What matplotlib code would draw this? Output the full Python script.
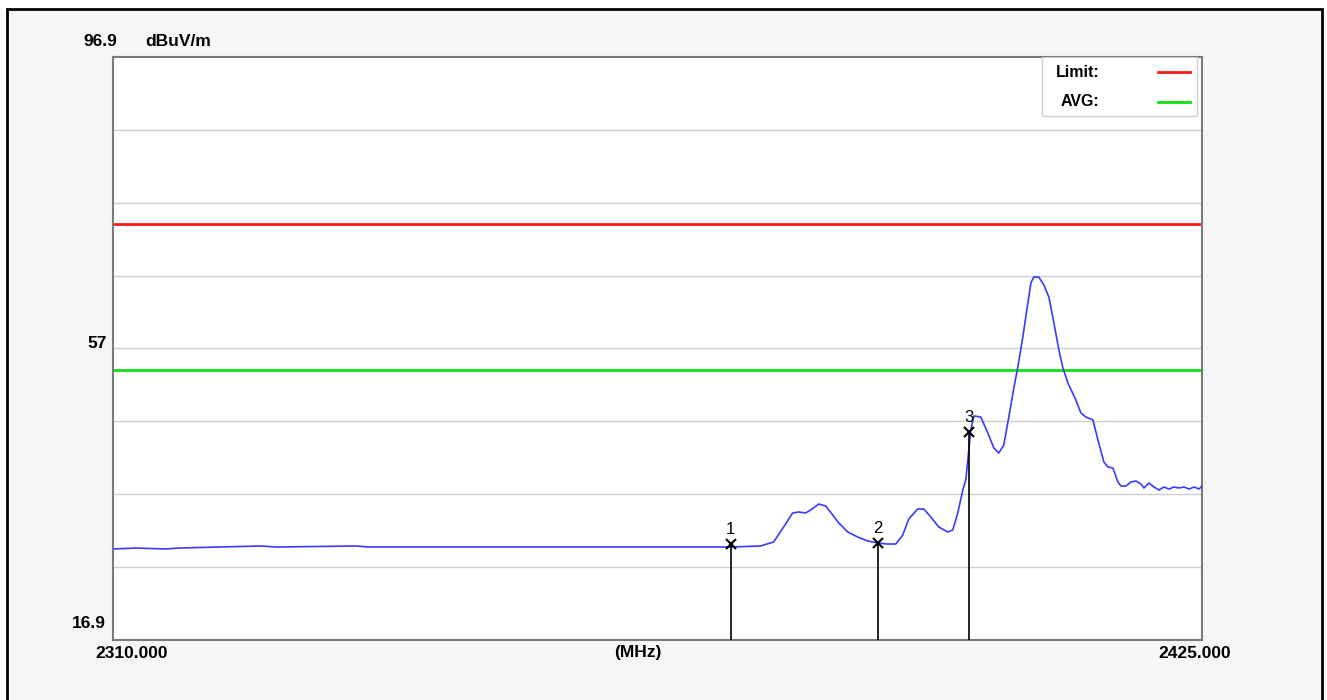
import matplotlib
matplotlib.use("Agg")
import matplotlib.pyplot as plt
from matplotlib.patches import Rectangle
from matplotlib.lines import Line2D

plt.rcParams['font.family'] = ['Liberation Sans', 'DejaVu Sans']

# Datos (MHz, dBuV/m)
freq = [2310.0, 2312.43, 2315.5, 2317.0, 2325.54, 2327.23, 2335.69, 2337.0,
        2350.91, 2372.05, 2375.22, 2378.39, 2379.76, 2380.82, 2381.77, 2382.40,
        2383.14, 2383.67, 2384.52, 2385.26, 2386.00, 2386.64, 2387.59, 2388.64,
        2389.70, 2390.76, 2391.81, 2392.66, 2393.40, 2394.03, 2394.98, 2395.62,
        2396.36, 2397.20, 2398.15, 2398.68, 2399.21, 2399.74, 2400.06, 2400.27,
        2400.58, 2400.90, 2401.64, 2402.38, 2403.02, 2403.54, 2404.07, 2404.60,
        2405.13, 2405.55, 2406.08, 2406.61, 2406.93, 2407.24, 2407.77, 2408.30,
        2408.83, 2409.36, 2409.89, 2410.31, 2410.84, 2411.68, 2412.21, 2412.74,
        2413.48, 2414.01, 2414.64, 2415.07, 2415.59, 2416.12, 2416.44, 2416.97,
        2417.50, 2418.03, 2418.55, 2418.87, 2419.40, 2419.93, 2420.46, 2420.98,
        2421.51, 2422.04, 2422.57, 2423.10, 2423.63, 2424.16, 2424.69, 2425.0]
nivel = [29.39, 29.52, 29.39, 29.52, 29.80, 29.66, 29.80, 29.66,
         29.66, 29.66, 29.66, 29.80, 30.35, 32.41, 34.33, 34.47,
         34.33, 34.74, 35.56, 35.29, 34.06, 32.96, 31.72, 31.03,
         30.49, 30.21, 30.07, 30.07, 31.31, 33.50, 34.88, 34.88,
         33.78, 32.41, 31.72, 32.00, 34.33, 37.48, 38.86, 41.60,
         45.72, 47.64, 47.50, 45.31, 43.25, 42.56, 43.66, 47.50,
         51.48, 54.36, 58.48, 63.14, 65.89, 66.71, 66.71, 65.61,
         63.97, 60.40, 56.69, 54.23, 52.17, 49.83, 48.05, 47.50,
         47.09, 44.34, 41.33, 40.64, 40.50, 38.58, 38.03, 38.03,
         38.58, 38.72, 38.31, 37.76, 38.44, 37.89, 37.48, 37.89,
         37.62, 37.89, 37.76, 37.89, 37.62, 37.89, 37.62, 38.03]

marcadores_freq = [2375.22, 2390.76, 2400.37]
marcadores_nivel = [30.1, 30.2, 45.4]
marcadores_txt = ['1', '2', '3']

limite = 74.0
promedio = 54.0
y_min, y_max = 16.9, 96.9
x_min, x_max = 2310.0, 2425.0

fig = plt.figure(figsize=(13.27, 7.0), dpi=100)
fig.patch.set_facecolor('white')

# marco exterior
fondo = Rectangle((7 / 1327, -0.01), (1322 - 7) / 1327, 1 - 9 / 700 + 0.01,
                  transform=fig.transFigure, facecolor='#f6f6f6',
                  edgecolor='black', linewidth=2, zorder=-5)
fig.patches.append(fondo)

ax = fig.add_axes([113 / 1327, 1 - 640 / 700, (1202 - 113) / 1327, (640 - 57) / 700])
ax.set_zorder(2)
ax.set_facecolor('white')
ax.set_xlim(x_min, x_max)
ax.set_ylim(y_min, y_max)

# rejilla horizontal
for k in range(1, 8):
    ax.axhline(y_min + 10 * k, color='#cfcfcf', linewidth=1, zorder=1)

ax.axhline(limite, color='#ff1a1a', linewidth=2, zorder=2)
ax.axhline(promedio, color='#10e010', linewidth=2, zorder=2)

ax.plot(freq, nivel, color='#3a3aff', linewidth=1.2, zorder=3)

for f, n, t in zip(marcadores_freq, marcadores_nivel, marcadores_txt):
    ax.plot([f, f], [y_min, n], color='black', linewidth=1.2, zorder=4)
    ax.plot(f, n, marker='x', color='black', markersize=7, markeredgewidth=1.5, zorder=5)
    ax.text(f, n + 1.0, t, ha='center', va='bottom', fontsize=12, color='black', zorder=5)

ax.set_xticks([])
ax.set_yticks([])
for s in ax.spines.values():
    s.set_color('#7a7a7a')
    s.set_linewidth(1.5)

# leyenda
caja = Rectangle((0.853, 0.899), 0.142, 0.101, transform=ax.transAxes,
                 facecolor='white', edgecolor='#d0d0d0', linewidth=1, zorder=6)
ax.add_patch(caja)
ax.text(0.906, 0.974, 'Limit:', transform=ax.transAxes, ha='right', va='center',
        fontsize=11.5, fontweight='bold', zorder=7)
ax.text(0.906, 0.923, 'AVG:', transform=ax.transAxes, ha='right', va='center',
        fontsize=11.5, fontweight='bold', zorder=7)
ax.add_line(Line2D([0.9596, 0.989], [0.974, 0.974], transform=ax.transAxes,
                   color='#ff1a1a', linewidth=2, zorder=7))
ax.add_line(Line2D([0.9596, 0.989], [0.923, 0.923], transform=ax.transAxes,
                   color='#10e010', linewidth=2, zorder=7))

# etiquetas de los ejes
def px(x, y):
    return x / 1327, 1 - y / 700

fig.text(*px(117, 42), '96.9', ha='right', va='center', fontsize=12.5, fontweight='bold')
fig.text(*px(145, 42), 'dBuV/m', ha='left', va='center', fontsize=12.5, fontweight='bold')
fig.text(*px(107, 343), '57', ha='right', va='center', fontsize=12.5, fontweight='bold')
fig.text(*px(106, 623), '16.9', ha='right', va='center', fontsize=12.5, fontweight='bold')
fig.text(*px(132, 653), '2310.000', ha='center', va='center', fontsize=12.5, fontweight='bold')
fig.text(*px(638, 653), '(MHz)', ha='center', va='center', fontsize=12.5, fontweight='bold')
fig.text(*px(1195, 653), '2425.000', ha='center', va='center', fontsize=12.5, fontweight='bold')

plt.savefig('out.png', dpi=100, facecolor=fig.get_facecolor())
